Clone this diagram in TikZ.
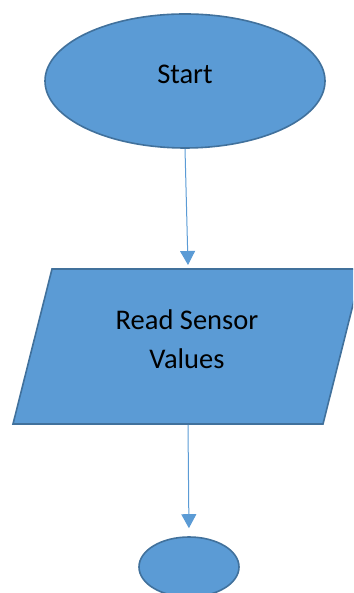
\documentclass[tikz,border=0pt]{standalone}
\usepackage{fontspec}
\setmainfont{Carlito}
\usetikzlibrary{shapes.geometric,arrows.meta}
\definecolor{boxfill}{HTML}{5B9BD5}
\definecolor{boxline}{HTML}{41719C}
\tikzset{
  flowshape/.style={fill=boxfill, draw=boxline, line width=1.6pt},
  flowarrow/.style={draw=boxfill, line width=1pt, -{Triangle[width=15pt,length=14pt]}},
  flowtext/.style={font=\fontsize{28.5}{39}\selectfont, text=black, align=center, inner sep=0pt}
}
\begin{document}
\begin{tikzpicture}[x=1pt,y=1pt]
\useasboundingbox (0,0) rectangle (353,593);
\clip (0,0) rectangle (353,593);
% Start terminal
\node[flowshape, ellipse, minimum width=280pt, minimum height=134pt, inner sep=0pt] (start) at (185,512) {};
\node[flowtext] (starttext) at (185,519) {Start};
% Input parallelogram
\coordinate (p1) at (52,324);
\coordinate (p2) at (362,324);
\coordinate (p3) at (323,169);
\coordinate (p4) at (13,169);
\draw[flowshape] (p1) -- (p2) -- (p3) -- (p4) -- cycle;
\coordinate (readtop) at (188,328);
\coordinate (readbot) at (188,168);
\node[flowtext] (read) at (187,254) {Read Sensor\\Values};
% End terminal
\node[flowshape, ellipse, minimum width=100pt, minimum height=60pt, inner sep=0pt] (stop) at (189,26) {};
% Connectors
\draw[flowarrow] (start.south) -- (readtop);
\draw[flowarrow, shorten >=8pt] (readbot) -- (stop.north);
\end{tikzpicture}
\end{document}
